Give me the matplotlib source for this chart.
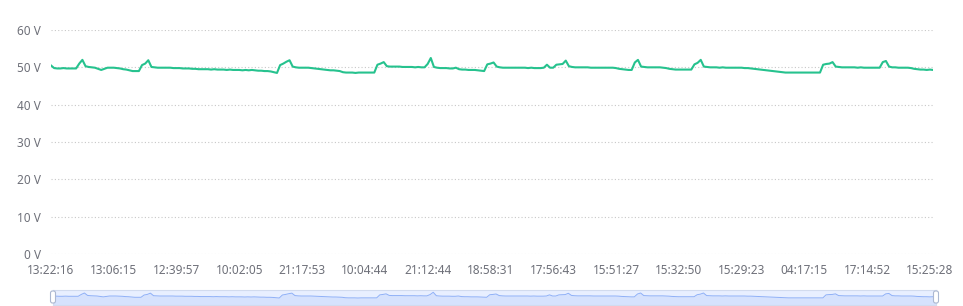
import matplotlib
matplotlib.use('Agg')
import matplotlib.pyplot as plt
from matplotlib.patches import FancyBboxPatch
from matplotlib.transforms import IdentityTransform
import numpy as np

plt.rcParams['font.family'] = ['Noto Sans', 'DejaVu Sans']

# Voltage readings (V), one per sample
volts = [
    50.5, 49.8, 49.7, 49.7, 49.8, 49.7, 49.7, 49.7, 49.7, 51.0,
    52.0, 50.3, 50.1, 50.0, 49.9, 49.6, 49.3, 49.6, 49.9, 49.9,
    49.9, 49.8, 49.7, 49.5, 49.4, 49.2, 49.0, 49.0, 49.0, 50.6,
    51.0, 51.9, 50.1, 50.0, 49.9, 49.9, 49.9, 49.9, 49.9, 49.8,
    49.8, 49.8, 49.7, 49.7, 49.7, 49.6, 49.6, 49.5, 49.5, 49.5,
    49.5, 49.4, 49.5, 49.4, 49.4, 49.4, 49.3, 49.4, 49.3, 49.3,
    49.3, 49.2, 49.3, 49.2, 49.3, 49.2, 49.1, 49.1, 49.0, 49.0,
    48.9, 48.7, 48.5, 50.6, 51.0, 51.5, 51.9, 50.2, 50.0, 49.9,
    49.9, 49.9, 49.9, 49.8, 49.7, 49.6, 49.5, 49.4, 49.3, 49.2,
    49.2, 49.1, 49.0, 48.7, 48.6, 48.6, 48.6, 48.5, 48.6, 48.6,
    48.6, 48.6, 48.6, 48.6, 50.7, 51.0, 51.4, 50.3, 50.2, 50.2,
    50.2, 50.2, 50.1, 50.1, 50.1, 50.1, 50.0, 50.1, 50.0, 50.0,
    50.9, 52.5, 50.1, 49.9, 49.8, 49.8, 49.8, 49.7, 49.7, 49.9,
    49.5, 49.4, 49.4, 49.3, 49.3, 49.3, 49.2, 49.1, 49.0, 50.8,
    51.0, 51.3, 50.2, 50.0, 49.9, 49.9, 49.9, 49.9, 49.9, 49.9,
    49.9, 49.9, 49.8, 49.9, 49.8, 49.8, 49.8, 49.9, 50.7, 49.9,
    49.9, 50.7, 50.8, 50.9, 51.8, 50.3, 50.1, 50.0, 50.0, 50.0,
    50.0, 50.0, 49.9, 49.9, 49.9, 49.9, 49.9, 49.9, 49.9, 49.9,
    49.8, 49.6, 49.5, 49.4, 49.3, 49.3, 51.3, 52.0, 50.2, 50.1,
    50.0, 50.0, 50.0, 50.0, 50.0, 49.9, 49.8, 49.6, 49.5, 49.4,
    49.4, 49.4, 49.4, 49.4, 49.4, 50.8, 51.2, 52.0, 50.2, 50.1,
    50.0, 50.0, 50.0, 49.9, 50.0, 49.9, 49.9, 49.9, 49.9, 49.9,
    49.9, 49.8, 49.8, 49.7, 49.6, 49.5, 49.4, 49.3, 49.2, 49.1,
    49.0, 48.9, 48.8, 48.7, 48.6, 48.6, 48.6, 48.6, 48.6, 48.6,
    48.6, 48.6, 48.6, 48.6, 48.6, 48.6, 50.7, 50.9, 51.0, 51.4,
    50.2, 50.1, 50.0, 50.0, 50.0, 50.0, 50.0, 49.9, 50.0, 49.9,
    49.9, 49.9, 49.9, 49.9, 49.9, 51.4, 51.7, 50.2, 50.0, 50.0,
    49.9, 49.9, 49.9, 49.9, 49.8, 49.6, 49.5, 49.4, 49.4, 49.3,
    49.4, 49.3,
]

# Time labels shown on the category axis (every 20th sample)
time_labels = ['13:22:16', '13:06:15', '12:39:57', '10:02:05', '21:17:53',
               '10:04:44', '21:12:44', '18:58:31', '17:56:43', '15:51:27',
               '15:32:50', '15:29:23', '04:17:15', '17:14:52', '15:25:28']
label_step = 20

y_ticks = [0, 10, 20, 30, 40, 50, 60]

fig = plt.figure(figsize=(9.63, 3.06), dpi=100)

# Main chart
ax = fig.add_axes([51/963, 52/306, 882/963, 224/306])
x = np.arange(len(volts))
ax.plot(x, volts, color='#26c28e', linewidth=1.5)

ax.set_xlim(0, len(volts) - 1)
ax.set_ylim(0, 60)
ax.set_yticks(y_ticks)
ax.set_yticklabels([str(v) + ' V' for v in y_ticks])
ax.set_xticks(x[::label_step][:len(time_labels)])
ax.set_xticklabels(time_labels)

ax.grid(axis='y', linestyle=(0, (1, 2)), color='#c8c8c8', linewidth=0.8)
ax.set_axisbelow(True)
for s in ax.spines.values():
    s.set_visible(False)
ax.tick_params(axis='both', length=0, colors='#6e7079', labelsize=8.5)
ax.tick_params(axis='y', pad=7)
ax.tick_params(axis='x', pad=7)

# Data zoom slider at the bottom
sax = fig.add_axes([53/963, 1/306, 883/963, 15/306])
sax.set_facecolor('#e8efff')
sax.plot(x, volts, color='#8fb0f7', linewidth=0.7)
sax.fill_between(x, volts, 43.6, color='#8fb0f7', alpha=0.2, linewidth=0)
sax.set_xlim(0, len(volts) - 1)
sax.set_ylim(43.6, 54.1)
sax.set_xticks([])
sax.set_yticks([])
for s in sax.spines.values():
    s.set_color('#d2dbee')
    s.set_linewidth(0.8)

# Slider handles (pixel coords)
for hx in [53, 936]:
    h = FancyBboxPatch((hx - 2.5, 3), 5, 12,
                       boxstyle='round,pad=0,rounding_size=2',
                       transform=IdentityTransform(),
                       facecolor='white', edgecolor='#acb8d1', linewidth=0.8)
    fig.patches.append(h)

fig.savefig('out.png', dpi=100)
